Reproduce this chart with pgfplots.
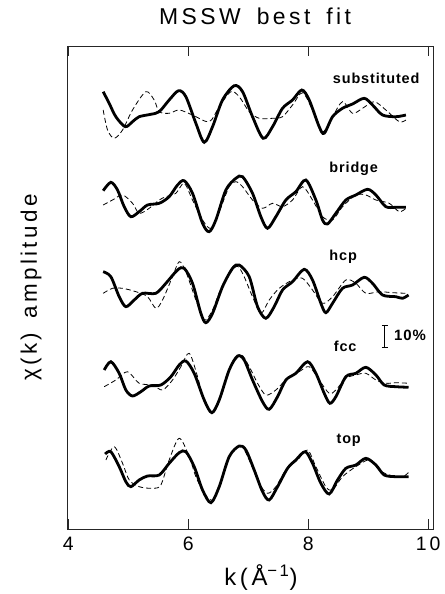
\documentclass[border=0pt]{standalone}
\usepackage{fontspec}
\setmainfont{Liberation Sans}
\newfontfamily\pf[LetterSpace=15]{Liberation Sans}
\newfontfamily\pfl[LetterSpace=6]{Liberation Sans}
\usepackage{pgfplots}
\pgfplotsset{compat=1.18}
\begin{document}
\begin{tikzpicture}
\begin{axis}[
 scale only axis, width=366bp, height=483bp,
 xmin=3.98, xmax=10.08, ymin=0, ymax=483,
 xtick={4,6,8,10}, ytick=\empty,
 xtick pos=both, xticklabel pos=lower,
 tick align=inside, major tick length=10bp,
 axis line style={line width=0.7bp, black!85},
 tick style={line width=0.7bp, black!85},
 /pgf/number format/assume math mode=true,
 xticklabel style={font=\pf\fontsize{19.5}{22}\selectfont, anchor=center, yshift=-14.5bp},
 title={MSSW\hspace{16bp}best\hspace{16bp}fit},
 title style={at={(axis description cs:0.514,1.0497)}, anchor=center, font=\pf\fontsize{23}{26}\selectfont},
 xlabel={k(Å\textsuperscript{\char"2212 1})},
 xlabel style={at={(axis description cs:0.53,-0.1014)}, anchor=center, font=\pf\fontsize{24}{26}\selectfont},
 ylabel={χ(k)\hspace{14bp}amplitude},
 ylabel style={at={(axis description cs:-0.098,0.5)}, anchor=center, rotate=0, font=\pf\fontsize{22.5}{24}\selectfont},
]
% ---------- substituted ----------
\addplot[black, line width=2.8bp, smooth] coordinates {
(4.583,437.3)(4.683,425.7)(4.794,412.3)(4.95,402.3)(5.072,407.3)(5.183,412.3)(5.378,414.7)(5.517,417.3)(5.683,429)(5.839,438.3)(5.961,432.3)(6.128,405.7)(6.267,386.7)(6.406,402.3)(6.572,429)(6.767,443.3)(6.906,437.3)(7.072,412.3)(7.25,390.7)(7.406,402.3)(7.572,420.7)(7.739,429)(7.894,439)(8.017,429)(8.183,402.3)(8.267,395.7)(8.406,412.3)(8.572,420.7)(8.739,425)(8.933,430.7)(9.072,424)(9.239,414)(9.461,412.3)(9.628,414)};
\addplot[black, line width=0.8bp, dash pattern=on 5bp off 3bp, smooth] coordinates {
(4.583,419)(4.656,399)(4.767,390.7)(4.906,399)(5.072,419)(5.294,437.3)(5.433,429)(5.517,417.3)(5.683,415.7)(5.85,419)(6.072,414)(6.35,407.3)(6.517,422.3)(6.711,437.3)(6.85,432.3)(7.017,417.3)(7.183,410.7)(7.406,410.7)(7.572,412.3)(7.739,424)(7.906,436.3)(8.072,419)(8.239,397.3)(8.406,412.3)(8.572,427.3)(8.739,415.7)(8.906,420.7)(9.1,427.3)(9.294,419)(9.517,407.3)(9.628,409)};
% ---------- bridge ----------
\addplot[black, line width=2.8bp, smooth] coordinates {
(4.583,338.3)(4.711,346.7)(4.822,339)(4.933,322.3)(5.044,312.3)(5.183,317.3)(5.322,324)(5.517,325.7)(5.683,332.3)(5.822,344)(5.933,348.3)(6.072,335.7)(6.239,305.7)(6.35,297.3)(6.461,309)(6.628,339)(6.794,350.7)(6.906,352.3)(7.072,335.7)(7.211,312.3)(7.322,300.7)(7.461,312.3)(7.628,329)(7.794,337.3)(7.961,349)(8.128,329)(8.239,309)(8.322,305)(8.461,315.7)(8.628,329)(8.794,334)(8.989,339.7)(9.128,334)(9.294,322.3)(9.461,321.7)(9.628,321.7)};
\addplot[black, line width=0.8bp, dash pattern=on 5bp off 3bp, smooth] coordinates {
(4.583,324)(4.739,329)(4.906,334)(5.072,325.7)(5.183,315.7)(5.35,320.7)(5.517,329)(5.628,332.3)(5.794,335.7)(5.933,345.7)(6.072,329)(6.239,309)(6.378,300.7)(6.517,317.3)(6.683,342.3)(6.794,347.3)(6.906,342.3)(7.072,329)(7.239,320.7)(7.406,325.7)(7.572,322.3)(7.739,329)(7.906,342.3)(8.072,329)(8.239,312.3)(8.406,309)(8.572,322.3)(8.794,334)(8.961,334)(9.128,329)(9.35,325.7)(9.517,317.3)(9.628,320.7)};
% ---------- hcp ----------
\addplot[black, line width=2.8bp, smooth] coordinates {
(4.583,257.3)(4.711,252.3)(4.85,232.3)(4.961,222.3)(5.1,229)(5.239,235.7)(5.461,235.7)(5.628,245.7)(5.822,259)(5.933,260.7)(6.072,245.7)(6.211,215.7)(6.294,206.3)(6.406,215.7)(6.572,242.3)(6.739,260.7)(6.85,264)(7.017,252.3)(7.156,222.3)(7.294,210.7)(7.433,222.3)(7.572,239)(7.739,247.3)(7.933,259.7)(8.072,249)(8.211,225.7)(8.294,216.3)(8.406,225.7)(8.572,240.7)(8.739,244)(8.933,251.7)(9.072,245.7)(9.239,234)(9.461,232.3)(9.572,230.7)(9.672,234)};
\addplot[black, line width=0.8bp, dash pattern=on 5bp off 3bp, smooth] coordinates {
(4.583,235.7)(4.739,240.7)(4.906,240.7)(5.128,237.3)(5.322,232.3)(5.461,220.7)(5.572,229)(5.739,252.3)(5.85,267.3)(5.961,257.3)(6.128,229)(6.267,209)(6.406,219)(6.572,244)(6.794,262.3)(6.906,255.7)(7.072,232.3)(7.211,215.7)(7.35,229)(7.517,240.7)(7.739,249)(7.906,250.7)(8.072,239)(8.239,225.7)(8.406,232.3)(8.628,249)(8.794,245.7)(8.961,235.7)(9.183,237.3)(9.406,236.3)(9.628,235.7)};
% ---------- fcc ----------
\addplot[black, line width=2.8bp, smooth] coordinates {
(4.6,159)(4.711,167.3)(4.85,155.7)(4.961,139)(5.072,133)(5.211,137.3)(5.35,143)(5.544,144)(5.711,152.3)(5.85,164)(5.961,168)(6.1,155.7)(6.267,129)(6.394,116.3)(6.517,129)(6.683,159)(6.822,173)(6.933,169)(7.072,149)(7.239,127.3)(7.35,119.7)(7.489,132.3)(7.628,149)(7.794,155.7)(7.989,167.3)(8.128,155.7)(8.267,135.7)(8.361,125.7)(8.461,132.3)(8.628,152.3)(8.794,155.7)(8.961,161.7)(9.128,154)(9.267,144)(9.461,142.3)(9.672,141.7)};
\addplot[black, line width=0.8bp, dash pattern=on 5bp off 3bp, smooth] coordinates {
(4.6,142.3)(4.794,149)(4.989,157.3)(5.183,145.7)(5.406,144)(5.572,139)(5.739,149)(5.878,162.3)(6.017,175.7)(6.156,152.3)(6.267,127.3)(6.406,115.7)(6.544,132.3)(6.683,159)(6.878,174)(7.017,162.3)(7.156,145.7)(7.294,134)(7.461,139)(7.628,149)(7.85,157.3)(8.017,162.3)(8.183,149)(8.35,135.7)(8.461,139)(8.628,150.7)(8.794,154)(8.961,155.7)(9.128,149)(9.294,145.7)(9.461,146.3)(9.683,145.7)};
% ---------- top ----------
\addplot[black, line width=2.8bp, smooth] coordinates {
(4.617,75)(4.711,77.3)(4.85,62.3)(4.961,47.3)(5.044,42.3)(5.183,49)(5.322,53)(5.517,54)(5.683,65.7)(5.85,76.3)(5.961,77.3)(6.1,62.3)(6.239,39)(6.378,26.3)(6.517,42.3)(6.683,72.3)(6.85,83)(6.961,79)(7.1,59)(7.239,37.3)(7.35,29)(7.489,42.3)(7.656,60.7)(7.794,69)(7.95,77.3)(8.072,65.7)(8.211,45.7)(8.35,35)(8.489,49)(8.628,60.7)(8.794,64)(8.961,70.7)(9.128,64)(9.267,54)(9.461,52.3)(9.672,52.3)};
\addplot[black, line width=0.8bp, dash pattern=on 5bp off 3bp, smooth] coordinates {
(4.628,69)(4.767,82.3)(4.906,65.7)(5.017,49)(5.183,42.3)(5.406,40.7)(5.544,44)(5.683,69)(5.85,90.7)(6.017,72.3)(6.128,52.3)(6.267,35.7)(6.406,29)(6.544,45.7)(6.683,72.3)(6.878,83)(7.017,69)(7.183,45.7)(7.322,35.7)(7.461,42.3)(7.628,59)(7.822,69)(7.989,79)(8.128,62.3)(8.294,42.3)(8.406,39)(8.572,52.3)(8.794,62.3)(9.017,69)(9.183,59)(9.35,54)(9.572,52.3)(9.683,57.3)};
% ---------- labels ----------
\node[anchor=base, font=\pfl\bfseries\fontsize{14.5}{16}\selectfont] at (axis cs:9.133,445.7) {substituted};
\node[anchor=base, font=\pfl\bfseries\fontsize{14.5}{16}\selectfont] at (axis cs:8.758,356.3) {bridge};
\node[anchor=base, font=\pfl\bfseries\fontsize{14.5}{16}\selectfont] at (axis cs:8.583,268) {hcp};
\node[anchor=base, font=\pfl\bfseries\fontsize{14.5}{16}\selectfont] at (axis cs:8.617,177.3) {fcc};
\node[anchor=base, font=\pfl\bfseries\fontsize{14.5}{16}\selectfont] at (axis cs:8.675,85.7) {top};
% 10% scale bar
\draw[line width=0.9bp] (axis cs:9.278,181.7) -- (axis cs:9.278,204);
\draw[line width=0.9bp] (axis cs:9.228,204) -- (axis cs:9.328,204);
\draw[line width=0.9bp] (axis cs:9.228,181.7) -- (axis cs:9.328,181.7);
\node[anchor=base west, inner sep=0pt, font=\pfl\bfseries\fontsize{15}{16}\selectfont] at (axis cs:9.43,188.5) {10\%};
\end{axis}
\pgfresetboundingbox
\path[use as bounding box] ([shift={(-67bp,-65bp)}]current axis.south west) rectangle ([shift={(12bp,46bp)}]current axis.north east);
\end{tikzpicture}
\end{document}
